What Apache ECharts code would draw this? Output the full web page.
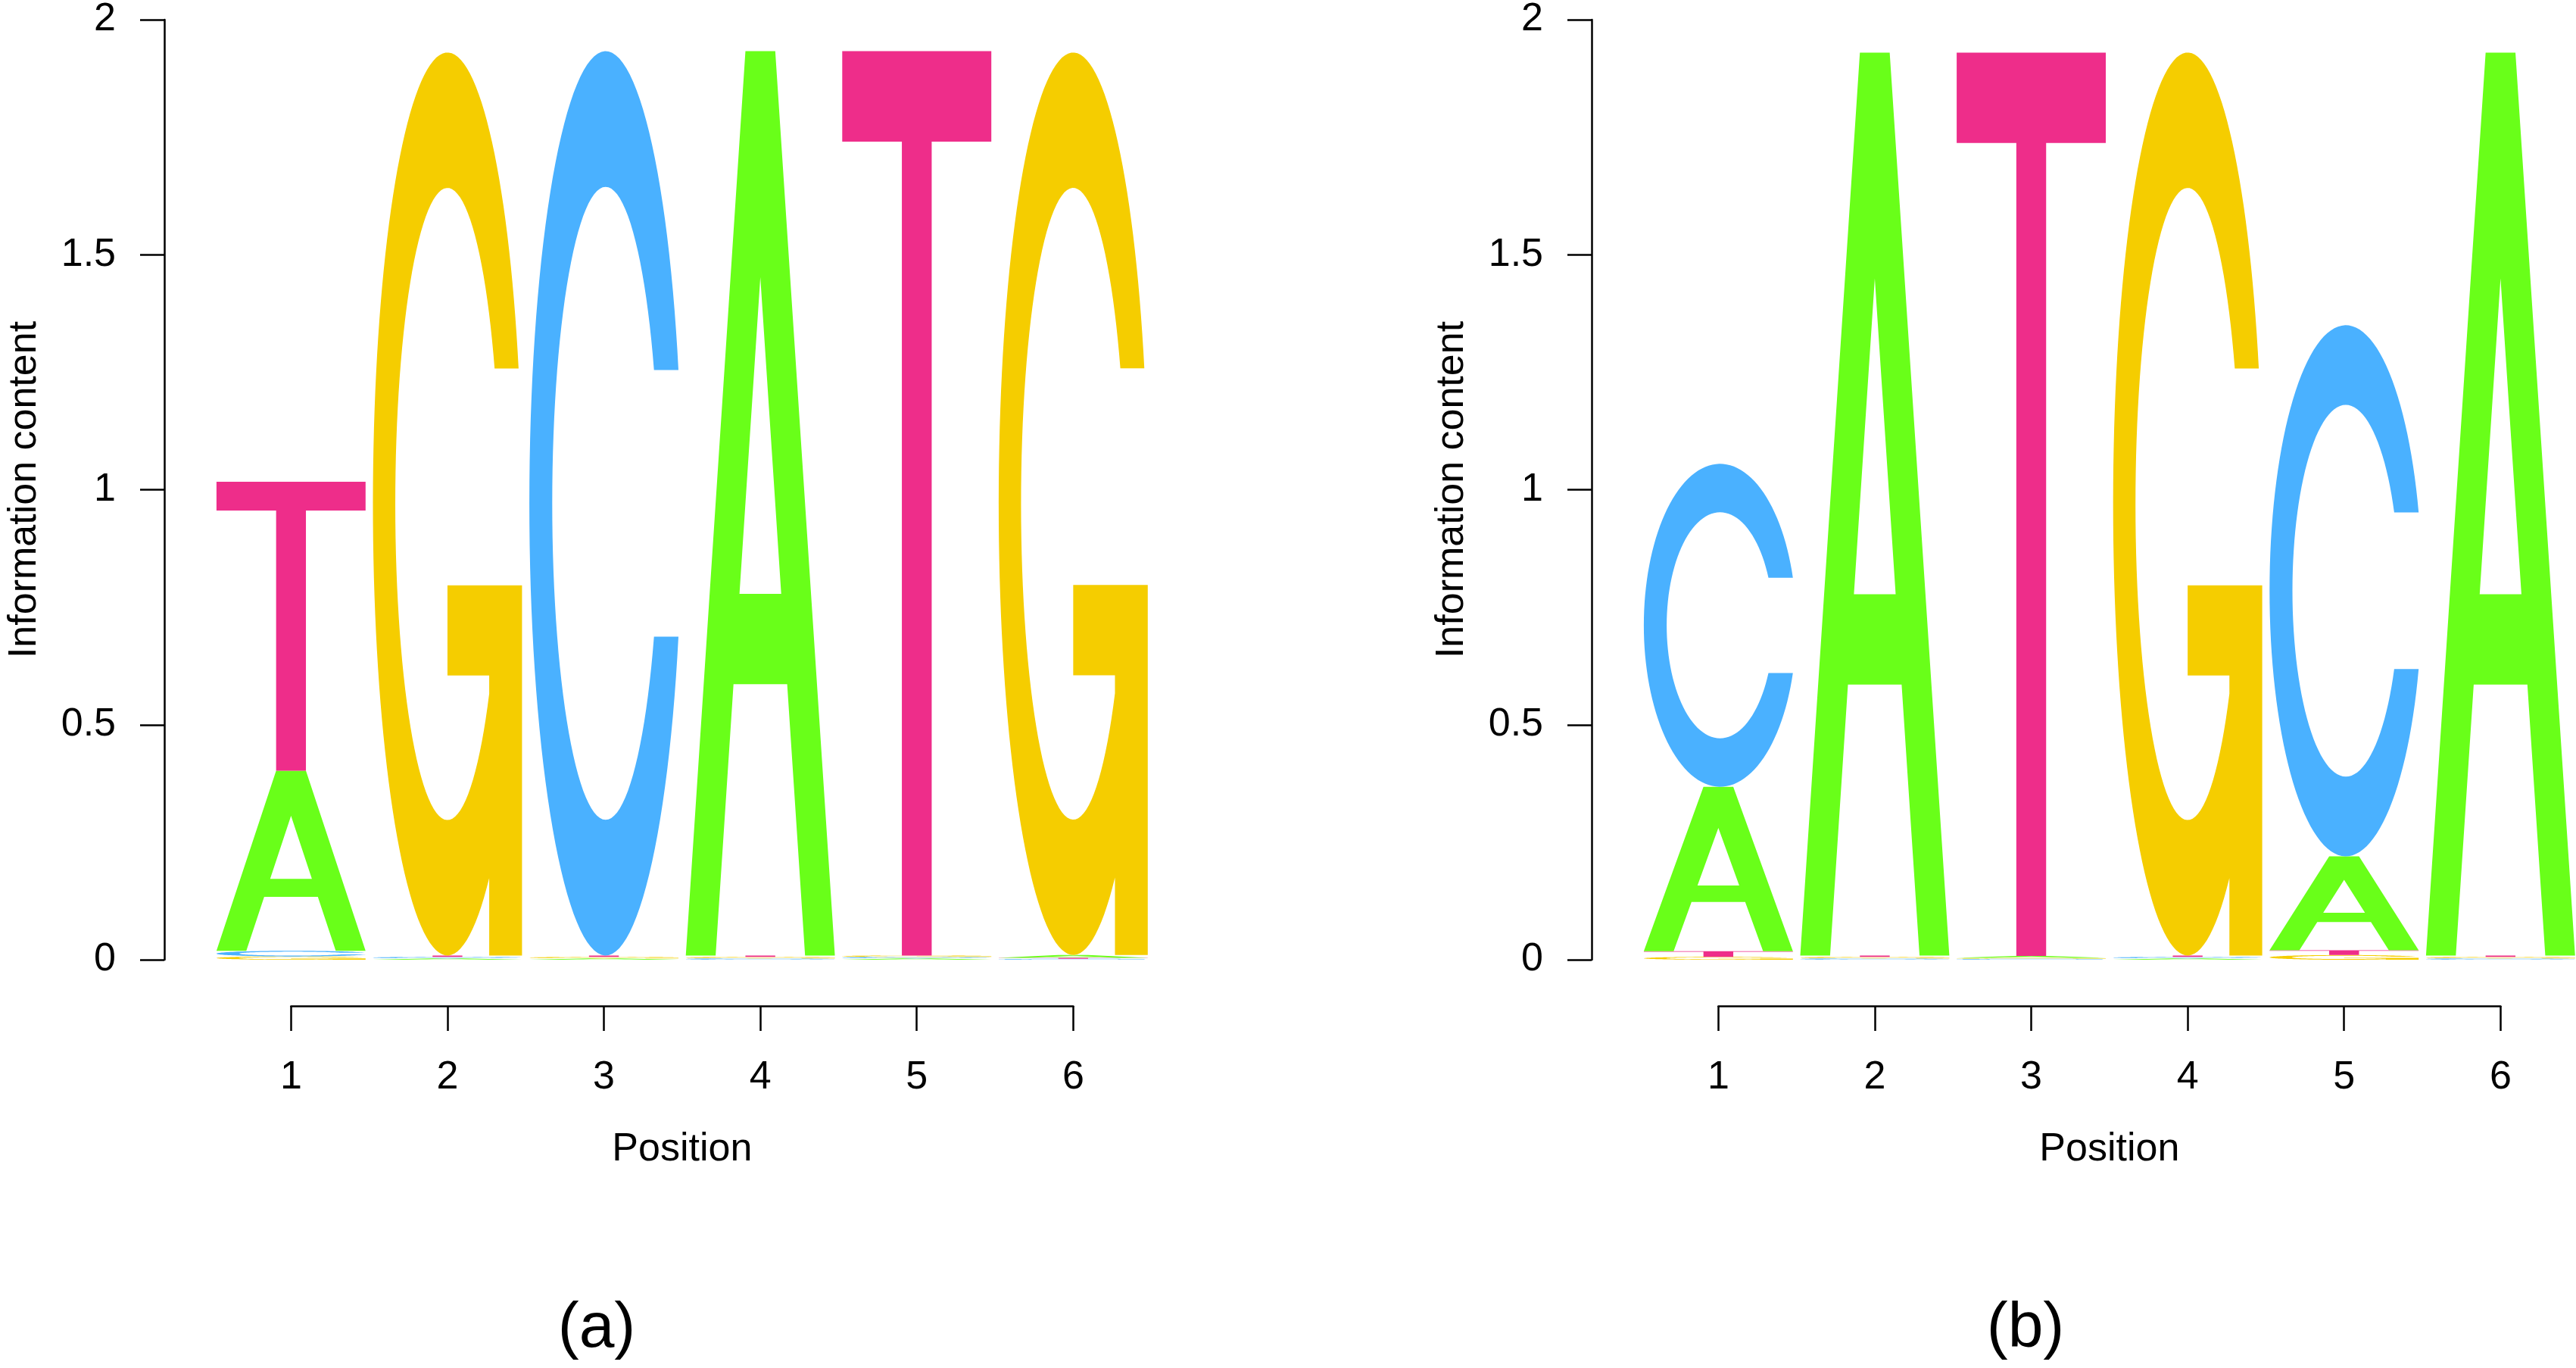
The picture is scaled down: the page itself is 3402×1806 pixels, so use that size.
<!DOCTYPE html>
<html>
<head>
<meta charset="utf-8">
<script src="https://cdn.jsdelivr.net/npm/echarts@6/dist/echarts.min.js"></script>
<style>
  html, body { margin: 0; padding: 0; background: #fff; }
  #logo { width: 3402px; height: 1806px; }
</style>
</head>
<body>
<div id="logo"></div>
<script>
// positions along the motif and the four bases
const positions = [1, 2, 3, 4, 5, 6];
const bases = ["A", "C", "G", "T"];

// panel (a): letter heights (bits) per position
const a_A = [0.383, 0.003, 0.003, 1.924, 0.003, 0.006];
const a_C = [0.012, 0.003, 1.924, 0.003, 0.003, 0.002];
const a_G = [0.007, 1.921, 0.003, 0.003, 0.003, 1.920];
const a_T = [0.615, 0.003, 0.003, 0.003, 1.924, 0.002];

// panel (b): letter heights (bits) per position
const b_A = [0.350, 1.921, 0.004, 0.003, 0.200, 1.921];
const b_C = [0.687, 0.003, 0.002, 0.003, 1.130, 0.003];
const b_G = [0.006, 0.003, 0.002, 1.921, 0.010, 0.003];
const b_T = [0.012, 0.003, 1.922, 0.003, 0.010, 0.003];

const yTicks = [0, 0.5, 1, 1.5, 2];
const panelLabels = ["(a)", "(b)"];

const baseColors = { A: "#69FF19", C: "#4AB1FF", G: "#F5CD00", T: "#EE2D8A" };
const FONT = "'Liberation Sans', Arial, Helvetica, sans-serif";

// ---- letter outlines in a 100x100 box, stretched to each stack cell ----
function arc(r, a0, a1, n) {
  let pts = [];
  for (let i = 0; i <= n; i++) {
    let t = (a0 + (a1 - a0) * i / n) * Math.PI / 180;
    pts.push([50 + r * Math.cos(t), 50 - r * Math.sin(t)]);
  }
  return pts;
}
function toPath(pts) {
  return "M" + pts.map(p => p[0].toFixed(2) + " " + p[1].toFixed(2)).join(" L") + " Z";
}
const glyphs = {
  A: toPath([[0, 100], [40, 0], [60, 0], [100, 100], [80, 100], [68, 70], [32, 70], [20, 100]]) +
     " " + toPath([[50, 25], [36, 60], [64, 60]]),
  C: toPath(arc(50, 17.16, 342.84, 120).concat(arc(35, 335.08, 24.92, 100))),
  G: toPath(arc(50, 17.46, 304.06, 120)
       .concat([[78, 100], [100, 100], [100, 59], [50, 59], [50, 69], [78, 69]])
       .concat(arc(35, 323.13, 25.38, 100))),
  T: toPath([[0, 0], [100, 0], [100, 10], [60, 10], [60, 100], [40, 100], [40, 10], [0, 10]])
};

// stack letters: smallest at the bottom, largest on top
function stackData(hA, hC, hG, hT) {
  const cols = [hA, hC, hG, hT];
  let out = [];
  positions.forEach((pos, i) => {
    let items = bases.map((b, k) => ({ k: k, h: cols[k][i] }));
    items.sort((p, q) => p.h - q.h);
    let y = 0;
    items.forEach(it => {
      out.push([pos, y, y + it.h, it.k]);
      y += it.h;
    });
  });
  return out;
}

const letterWidth = 0.953;
function renderLetter(params, api) {
  const pos = api.value(0), lo = api.value(1), hi = api.value(2);
  const b = bases[api.value(3)];
  const p0 = api.coord([pos - letterWidth / 2, lo]);
  const p1 = api.coord([pos + letterWidth / 2, hi]);
  return {
    type: "path",
    shape: {
      pathData: glyphs[b],
      x: p0[0], y: p1[1],
      width: p1[0] - p0[0], height: p0[1] - p1[1],
      layout: "cover"
    },
    style: { fill: baseColors[b] }
  };
}

const chart = echarts.init(document.getElementById("logo"));

const axisLine = { show: true, onZero: false, lineStyle: { color: "#000", width: 2.5 } };
const labelStyle = { color: "#000", fontSize: 52, fontFamily: FONT };

// x range of the letter area: 0.19 .. 6.45 at 206.6 px per position
const xMin = 0.19, xMax = 6.45, unitPx = 206.6;
const panelLeft = [217, 2102];
const grids = [], xAxes = [], yAxes = [], series = [];
const stacks = [stackData(a_A, a_C, a_G, a_T), stackData(b_A, b_C, b_G, b_T)];

panelLeft.forEach((left, p) => {
  // letter area
  grids.push({ left: left, top: 26, width: (xMax - xMin) * unitPx, height: 1241 });
  xAxes.push({ gridIndex: 2 * p, type: "value", min: xMin, max: xMax, show: false });
  yAxes.push({
    gridIndex: 2 * p, type: "value", min: 0, max: 2, interval: 0.5,
    axisLine: axisLine,
    axisTick: { show: true, length: 32, lineStyle: { color: "#000", width: 2.5 } },
    axisLabel: Object.assign({ margin: 64, formatter: v => String(v) }, labelStyle),
    splitLine: { show: false },
    name: "Information content", nameLocation: "middle", nameRotate: 90, nameGap: 158,
    nameTextStyle: labelStyle
  });
  // detached position axis (R style, spans 1..6 only)
  grids.push({ left: left + (1 - xMin) * unitPx, top: 1300, width: 5 * unitPx, height: 28 });
  xAxes.push({
    gridIndex: 2 * p + 1, type: "value", min: 1, max: 6, interval: 1, position: "bottom",
    axisLine: axisLine,
    axisTick: { show: true, length: 33, lineStyle: { color: "#000", width: 2.5 } },
    axisLabel: Object.assign({ margin: 69 }, labelStyle),
    splitLine: { show: false },
    name: "Position", nameLocation: "middle", nameGap: 164, nameTextStyle: labelStyle
  });
  yAxes.push({ gridIndex: 2 * p + 1, type: "value", show: false });

  series.push({
    type: "custom",
    xAxisIndex: 2 * p, yAxisIndex: 2 * p,
    renderItem: renderLetter,
    data: stacks[p],
    encode: { x: 0, y: 2 },
    silent: true
  });
});

chart.setOption({
  backgroundColor: "#fff",
  animation: false,
  grid: grids,
  xAxis: xAxes,
  yAxis: yAxes,
  series: series,
  graphic: panelLabels.map((t, p) => ({
    type: "text",
    x: [788, 2675][p], y: 1755,
    style: { text: t, fill: "#000", font: "84px " + FONT, textAlign: "center", textVerticalAlign: "middle" }
  }))
});
</script>
</body>
</html>
